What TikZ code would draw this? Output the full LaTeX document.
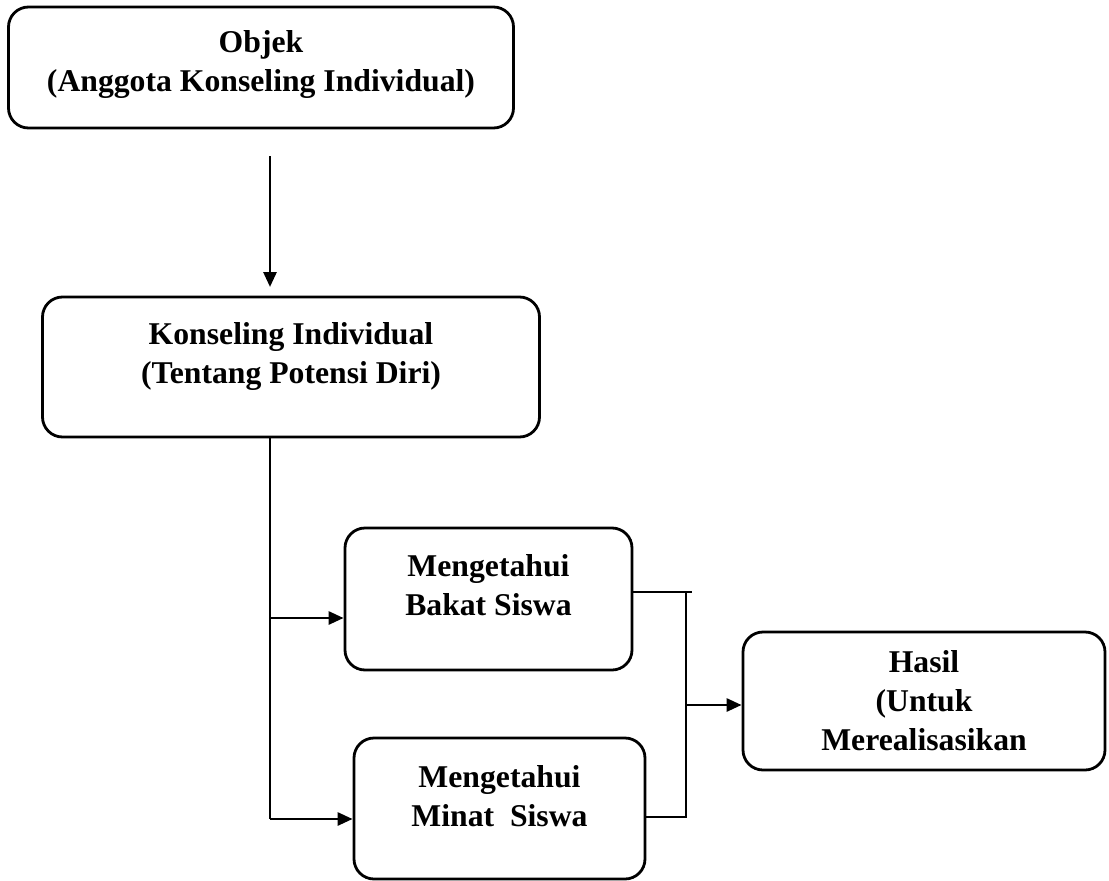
\documentclass[tikz,border=0pt]{standalone}
\usepackage{fontspec}
\setmainfont{Liberation Serif}
\usetikzlibrary{positioning,arrows.meta}

\begin{document}
\begin{tikzpicture}[
    x=1pt, y=-1pt,
    kotak/.style={draw,rectangle,rounded corners=20pt,line width=2.8pt,inner sep=0pt},
    teks/.style={align=center,font=\fontsize{31.7pt}{39pt}\selectfont\bfseries},
    panah/.style={line width=2.8pt,-{Triangle[length=15pt,width=13pt]}},
    garis/.style={line width=2.8pt}
    ]
    \useasboundingbox (0,0) rectangle (1109,881);

    % kotak-kotak
    \node[kotak, minimum width=505pt, minimum height=121pt] (objek) at (261,67.5) {};
    \node[teks] (objekteks) at ([yshift=3pt]objek.center) {Objek\\(Anggota Konseling Individual)};

    \node[kotak, minimum width=497pt, minimum height=140pt] (konseling) at (291,367) {};
    \node[teks] (konselingteks) at ([yshift=11pt]konseling.center) {Konseling Individual\\(Tentang Potensi Diri)};

    \node[kotak, minimum width=287pt, minimum height=142pt] (bakat) at (488.5,599) {};
    \node[teks] (bakatteks) at ([yshift=14pt]bakat.center) {Mengetahui\\Bakat Siswa};

    \node[kotak, minimum width=291pt, minimum height=141pt] (minat) at (499.5,808.5) {};
    \node[teks] (minatteks) at ([yshift=12pt]minat.center) {Mengetahui\\Minat\ \ Siswa};

    \node[kotak, minimum width=362pt, minimum height=138pt] (hasil) at (924,701) {};
    \node[teks] (hasilteks) at (hasil.center) {Hasil\\(Untuk\\Merealisasikan};

    % titik bantu
    \coordinate (mulai) at (270,156);
    \coordinate (ujung) at (270,287);
    \coordinate (cabang1) at (270,618);
    \coordinate (cabang2) at (270,819);
    \coordinate (kanan1) at (686,592);
    \coordinate (kanan2) at (686,817);
    \coordinate (tengah) at (686,705);

    % garis dan panah
    \draw[panah] (mulai) -- (ujung);
    \draw[garis] (konseling.south -| cabang2) -- (cabang2);
    \draw[panah] (cabang1) -- (cabang1 -| bakat.west);
    \draw[panah] (cabang2) -- (cabang2 -| minat.west);
    \draw[garis] (kanan1 -| bakat.east) -- ([xshift=6pt]kanan1);
    \draw[garis] (kanan1) -- (kanan2) -- (kanan2 -| minat.east);
    \draw[panah] (tengah) -- (tengah -| hasil.west);

  \end{tikzpicture}
\end{document}
